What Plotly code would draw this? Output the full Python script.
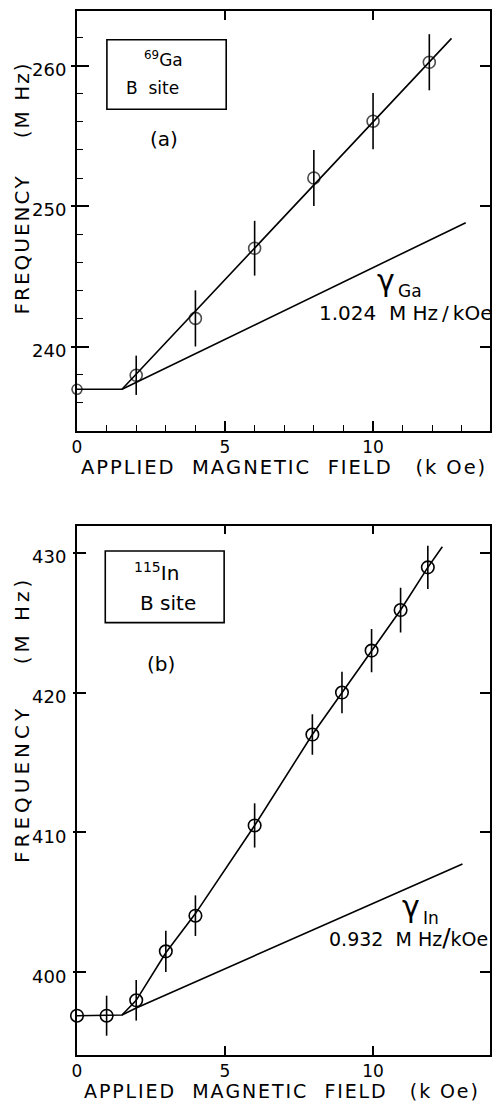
import plotly.graph_objects as go

# ---------------- data ----------------
a_field = [0, 2, 4, 6, 8, 10, 11.9]
a_freq = [236.95, 237.95, 242.0, 247.0, 252.0, 256.05, 260.25]
a_err = [0, 1.4, 2.0, 1.95, 2.0, 2.0, 2.0]

a_fit_field = [0, 1.52, 12.65]
a_fit_freq = [236.95, 236.95, 261.95]
a_gamma_field = [1.52, 13.13]
a_gamma_freq = [236.95, 248.82]

b_field = [0, 1, 2, 3, 4, 6, 7.95, 8.95, 9.95, 10.93, 11.85]
b_freq = [396.9, 396.9, 398.0, 401.5, 404.05, 410.5, 417.0, 420.0, 423.0, 425.9, 428.95]
b_err = [0, 1.43, 1.45, 1.48, 1.45, 1.58, 1.45, 1.48, 1.55, 1.6, 1.55]

b_fit_field = [0, 1.52, 2, 3, 4, 6, 7.95, 8.95, 9.95, 10.93, 11.85, 12.34]
b_fit_freq = [396.9, 396.95, 398.0, 401.4, 404.2, 410.5, 417.0, 420.0, 423.0, 425.9, 428.95, 430.43]
b_gamma_field = [1.52, 2, 13.02]
b_gamma_freq = [396.95, 397.45, 407.75]

x_range = [0, 13.95]
a_range = [233.98, 263.9]
b_range = [394.09, 431.93]
x_ticks = [0, 5, 10]
a_ticks = [240, 250, 260]
b_ticks = [400, 410, 420, 430]

FONT = "DejaVu Sans"
HAIR = "\u200a"
THIN = "\u2009"
NB = "\u00a0"


def spread(word, sep):
    return sep.join(NB if c == " " else c for c in word)


def words(parts, sep, gaps):
    out = spread(parts[0], sep)
    for g, p in zip(gaps, parts[1:]):
        out += NB * g + spread(p, sep)
    return out


fig = go.Figure()

line_style = dict(color="black", width=1.6)
for fx, fy, xa, ya in [(a_fit_field, a_fit_freq, "x", "y"), (a_gamma_field, a_gamma_freq, "x", "y"),
                       (b_fit_field, b_fit_freq, "x2", "y2"), (b_gamma_field, b_gamma_freq, "x2", "y2")]:
    fig.add_trace(go.Scatter(x=fx, y=fy, xaxis=xa, yaxis=ya, mode="lines", line=line_style,
                             hoverinfo="skip", showlegend=False))

fig.add_trace(go.Scatter(x=a_field, y=a_freq, xaxis="x", yaxis="y", mode="markers", cliponaxis=False,
                         marker=dict(symbol="circle-open", size=[10, 12, 12, 12, 12, 12, 12], color="black",
                                     line=dict(width=1.6, color="black")),
                         error_y=dict(type="data", array=a_err, visible=True, width=0, thickness=1.6, color="black"),
                         showlegend=False))
fig.add_trace(go.Scatter(x=b_field, y=b_freq, xaxis="x2", yaxis="y2", mode="markers", cliponaxis=False,
                         marker=dict(symbol="circle-open", size=12.5, color="black",
                                     line=dict(width=1.6, color="black")),
                         error_y=dict(type="data", array=b_err, visible=True, width=0, thickness=1.6, color="black"),
                         showlegend=False))

# hidden traces so the overlay axes are drawn
for xa, ya, fx, fy in [("x3", "y", a_field, a_freq), ("x", "y3", a_field, a_freq), ("x", "y5", a_field, a_freq),
                       ("x4", "y2", b_field, b_freq), ("x2", "y4", b_field, b_freq), ("x2", "y6", b_field, b_freq)]:
    fig.add_trace(go.Scatter(x=fx, y=fy, xaxis=xa, yaxis=ya, mode="markers", marker=dict(opacity=0),
                             hoverinfo="skip", showlegend=False))

common = dict(showgrid=False, zeroline=False, showline=True, linecolor="black", linewidth=2,
              tickcolor="black", tickwidth=1.6, fixedrange=True)
tickfont_x = dict(family=FONT, size=17, color="black")
tickfont_y = dict(family=FONT, size=18, color="black")

dom_a = [0.5977, 1.0]
dom_b = [0.0, 0.507]

fig.update_layout(
    width=492, height=1105,
    margin=dict(l=77, r=2, t=11, b=50),
    paper_bgcolor="white", plot_bgcolor="white",
    font=dict(family=FONT, color="black"),
    showlegend=False,
    # panel (a)
    xaxis=dict(**common, domain=[0, 1], anchor="y", range=x_range, tickvals=x_ticks, ticks="inside", ticklen=10,
               tickfont=tickfont_x, ticklabelstandoff=0,
               minor=dict(dtick=1, tick0=0, ticks="inside", ticklen=6, tickcolor="black", tickwidth=1.4)),
    yaxis=dict(**common, domain=dom_a, anchor="x", range=a_range, tickvals=a_ticks, ticks="outside", ticklen=4,
               tickfont=tickfont_y, ticklabelshift=4, ticklabelstandoff=1),
    xaxis3=dict(**common, overlaying="x", anchor="y", side="top", range=x_range, tickvals=x_ticks,
                ticks="inside", ticklen=9, showticklabels=False),
    yaxis3=dict(**common, overlaying="y", anchor="x", side="right", range=a_range, tickvals=a_ticks,
                ticks="inside", ticklen=10, showticklabels=False),
    yaxis5=dict(**common, overlaying="y", anchor="x", side="left", range=a_range, tickvals=a_ticks,
                ticks="inside", ticklen=12, showticklabels=False,
                minor=dict(dtick=2, tick0=0, ticks="inside", ticklen=6, tickcolor="black", tickwidth=1.4)),
    # panel (b)
    xaxis2=dict(**common, domain=[0, 1], anchor="y2", range=x_range, tickvals=x_ticks, ticks="inside", ticklen=9.5,
                tickfont=tickfont_x, ticklabelstandoff=0),
    yaxis2=dict(**common, domain=dom_b, anchor="x2", range=b_range, tickvals=b_ticks, ticks="outside", ticklen=2,
                tickfont=tickfont_y, ticklabelshift=4, ticklabelstandoff=3),
    xaxis4=dict(**common, overlaying="x2", anchor="y2", side="top", range=x_range, tickvals=x_ticks,
                ticks="inside", ticklen=8, showticklabels=False),
    yaxis4=dict(**common, overlaying="y2", anchor="x2", side="right", range=b_range, tickvals=b_ticks,
                ticks="inside", ticklen=10, showticklabels=False),
    yaxis6=dict(**common, overlaying="y2", anchor="x2", side="left", range=b_range, tickvals=b_ticks,
                ticks="inside", ticklen=9, showticklabels=False),
)

# boxes around the isotope labels
box = dict(color="black", width=1.6)
fig.add_shape(type="rect", xref="x", yref="y", x0=1.01, x1=5.04, y0=256.9, y1=261.85, line=box)
fig.add_shape(type="rect", xref="x2", yref="y2", x0=0.955, x1=4.97, y0=425.0, y1=430.12, line=box)


def ann(text, x, y, xref, yref, size, xanchor="center", yanchor="middle", angle=0):
    fig.add_annotation(text=text, x=x, y=y, xref=xref, yref=yref, showarrow=False,
                       xanchor=xanchor, yanchor=yanchor, textangle=angle,
                       font=dict(family=FONT, size=size, color="black"))


# panel (a) texts
ann("<sup>69</sup>Ga", 2.91, 260.45, "x", "y", 17)
ann("B" + NB * 2 + "site", 2.55, 258.4, "x", "y", 17)
ann("(a)", 2.94, 254.75, "x", "y", 20)
ann("γ", 10.43, 244.7, "x", "y", 30)
ann("Ga", 11.25, 243.96, "x", "y", 17)
ann("1.024" + NB * 2 + "M" + NB + "Hz" + THIN + "/" + THIN + "kOe", 8.09, 242.37, "x", "y", 20, xanchor="left")

# panel (b) texts
ann("<sup>115</sup>In", 2.69, 428.6, "x2", "y2", 20)
ann("B" + NB + "site", 3.06, 426.38, "x2", "y2", 20)
ann("(b)", 2.83, 422.04, "x2", "y2", 20)
ann("γ", 11.29, 404.7, "x2", "y2", 30)
ann("In", 11.96, 403.92, "x2", "y2", 17)
ann("0.932" + NB * 2 + "M" + NB + "Hz<span style='font-size:25px'>/</span>kOe", 8.46, 402.46, "x2", "y2", 19,
    xanchor="left")

# axis titles
PW = 413.0
PH = 1044.0


def px(xp):
    return (xp - 77) / PW


def py(yp):
    return (1055 - yp) / PH


xtitle = words(["APPLIED", "MAGNETIC", "FIELD", "(k Oe)"], HAIR, [3, 3, 4])
ann(xtitle, px(283), py(467), "paper", "paper", 19.5)
ann(xtitle, px(281), py(1104), "paper", "paper", 19, yanchor="bottom")

ytitle_a = words(["FREQUENCY", "(M Hz)"], HAIR, [6])
ytitle_b = words(["FREQUENCY", "(M Hz)"], THIN, [7])
ann(ytitle_a, px(21.5), py(189), "paper", "paper", 20, angle=-90)
ann(ytitle_b, px(21.5), py(721.5), "paper", "paper", 20, angle=-90)

fig.write_html("out.html")
